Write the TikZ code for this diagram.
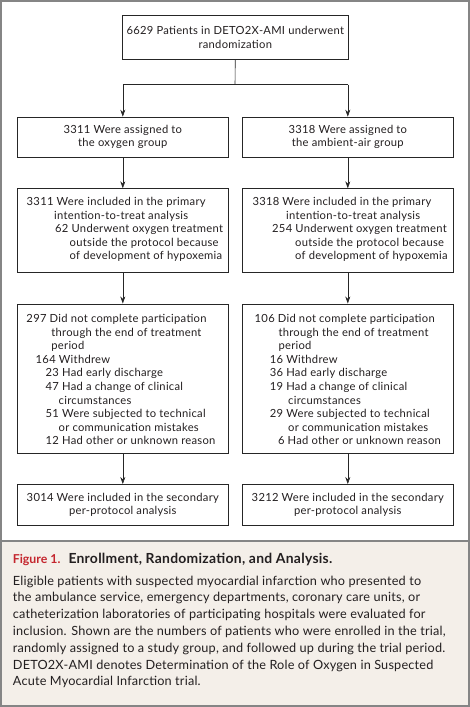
\documentclass[tikz,border=0pt]{standalone}
\usepackage{fontspec}
\setmainfont{Lato}
\newfontfamily\flowfam{Lato}[LetterSpace=2.5]
\newfontfamily\capfam{Lato}[LetterSpace=1.5]
\newfontfamily\headfam{Lato}[LetterSpace=2.0]
\usetikzlibrary{arrows.meta}
\definecolor{framegray}{HTML}{858585}
\definecolor{capbg}{HTML}{F4EFE9}
\definecolor{figred}{HTML}{C4262E}
\definecolor{inkc}{HTML}{231F20}
\newcommand\flowfont{\flowfam\fontsize{11.2}{13.6}\selectfont}
\newcommand\capfont{\capfam\fontsize{12.7}{16.8}\selectfont}
\tikzset{
  box/.style={draw=black!85, line width=0.6pt, fill=white, inner sep=0pt, anchor=north west, font=\flowfont, align=center, text=inkc},
  ln/.style={anchor=base west, inner sep=0pt, font=\flowfont, text=inkc},
  captxt/.style={anchor=base west, inner sep=0pt, font=\capfont, text=inkc},
  conn/.style={draw=black!85, line width=0.6pt},
  arr/.style={conn, -{Stealth[length=7pt,width=5pt]}}
}
\begin{document}
\begin{tikzpicture}[x=1pt,y=-1pt]
\useasboundingbox (0,0) rectangle (470,707);
% frame and caption background
\fill[capbg] (1,541) rectangle (469,706);
\draw[framegray, line width=2.2pt] (1.1,1.1) rectangle (468.9,705.9);
\draw[framegray, line width=2.2pt] (1,541) -- (469,541);

% top box
\node[box, minimum width=226pt, minimum height=44pt] (top) at (122,15) {6629 Patients in DETO2X-AMI underwent\\randomization};
% row 2
\node[box, minimum width=211pt, minimum height=40pt] (aL) at (17,116.7) {3311 Were assigned to\\the oxygen group};
\node[box, minimum width=211pt, minimum height=40pt] (aR) at (242,116.7) {3318 Were assigned to\\the ambient-air group};
% row 3
\node[box, minimum width=211pt, minimum height=83.7pt] (iL) at (17,188.3) {};
\node[box, minimum width=211pt, minimum height=83.7pt] (iR) at (242,188.3) {};
% row 4
\node[box, minimum width=211pt, minimum height=149.5pt] (dL) at (17,303.5) {};
\node[box, minimum width=211pt, minimum height=149.5pt] (dR) at (242,303.5) {};
% row 5
\node[box, minimum width=211pt, minimum height=41pt] (pL) at (17,484) {3014 Were included in the secondary\\per-protocol analysis};
\node[box, minimum width=211pt, minimum height=41pt] (pR) at (242,484) {3212 Were included in the secondary\\per-protocol analysis};

% connectors
\coordinate (split) at (235,84.5);
\draw[conn] (top.south) -- (split);
\draw[conn] (aL.north |- split) -- (aR.north |- split);
\draw[arr] (aL.north |- split) -- (aL.north);
\draw[arr] (aR.north |- split) -- (aR.north);
\draw[arr] (aL.south) -- (iL.north);
\draw[arr] (aR.south) -- (iR.north);
\draw[arr] (iL.south) -- (dL.north);
\draw[arr] (iR.south) -- (dR.north);
\draw[arr] (dL.south) -- (pL.north);
\draw[arr] (dR.south) -- (pR.north);

% row 3 texts left
\node[ln] (iL1) at (26.5,205.5) {3311 Were included in the primary};
\node[ln] (iL2) at (54,219.1) {intention-to-treat analysis};
\node[ln] (iL3) at (55,232.7) {62 Underwent oxygen treatment};
\node[ln] (iL4) at (69.5,246.3) {outside the protocol because};
\node[ln] (iL5) at (69.5,259.9) {of development of hypoxemia};
% row 3 texts right
\node[ln] (iR1) at (252.3,205.5) {3318 Were included in the primary};
\node[ln] (iR2) at (286,219.1) {intention-to-treat analysis};
\node[ln] (iR3) at (272,232.7) {254 Underwent oxygen treatment};
\node[ln] (iR4) at (295,246.3) {outside the protocol because};
\node[ln] (iR5) at (295,259.9) {of development of hypoxemia};

% row 4 texts left
\node[ln] (dL1) at (26.3,322.5) {297 Did not complete participation};
\node[ln] (dL2) at (51.2,336.1) {through the end of treatment};
\node[ln] (dL3) at (51.2,349.7) {period};
\node[ln] (dL4) at (35.5,363.3) {164 Withdrew};
\node[ln] (dL5) at (45.5,376.9) {23 Had early discharge};
\node[ln] (dL6) at (45.5,390.5) {47 Had a change of clinical};
\node[ln] (dL7) at (58.5,404.1) {circumstances};
\node[ln] (dL8) at (45.5,417.7) {51 Were subjected to technical};
\node[ln] (dL9) at (58.5,431.3) {or communication mistakes};
\node[ln] (dL10) at (45.5,444.9) {12 Had other or unknown reason};
% row 4 texts right
\node[ln] (dR1) at (254.5,322.5) {106 Did not complete participation};
\node[ln] (dR2) at (278.3,336.1) {through the end of treatment};
\node[ln] (dR3) at (278.3,349.7) {period};
\node[ln] (dR4) at (269.7,363.3) {16 Withdrew};
\node[ln] (dR5) at (269.7,376.9) {36 Had early discharge};
\node[ln] (dR6) at (269.7,390.5) {19 Had a change of clinical};
\node[ln] (dR7) at (288,404.1) {circumstances};
\node[ln] (dR8) at (269.7,417.7) {29 Were subjected to technical};
\node[ln] (dR9) at (288,431.3) {or communication mistakes};
\node[ln] (dR10) at (277.8,444.9) {6 Had other or unknown reason};

% caption
\node[captxt, font=\fontsize{12.3}{16.8}\selectfont\bfseries, text=figred] (fig) at (12.7,563) {Figure 1.};
\node[captxt, font=\headfam\fontsize{13.9}{16.8}\selectfont\bfseries] (capt) at (68.3,563) {Enrollment, Randomization, and Analysis.};
\node[captxt] (c1) at (12.7,585) {Eligible patients with suspected myocardial infarction who presented to};
\node[captxt] (c2) at (12.7,601.8) {the ambulance service, emergency departments, coronary care units, or};
\node[captxt] (c3) at (12.7,618.6) {catheterization laboratories of participating hospitals were evaluated for};
\node[captxt] (c4) at (12.7,635.4) {inclusion. Shown are the numbers of patients who were enrolled in the trial,};
\node[captxt] (c5) at (12.7,652.2) {randomly assigned to a study group, and followed up during the trial period.};
\node[captxt] (c6) at (12.7,669) {DETO2X-AMI denotes Determination of the Role of Oxygen in Suspected};
\node[captxt] (c7) at (12.7,685.8) {Acute Myocardial Infarction trial.};
\end{tikzpicture}
\end{document}
